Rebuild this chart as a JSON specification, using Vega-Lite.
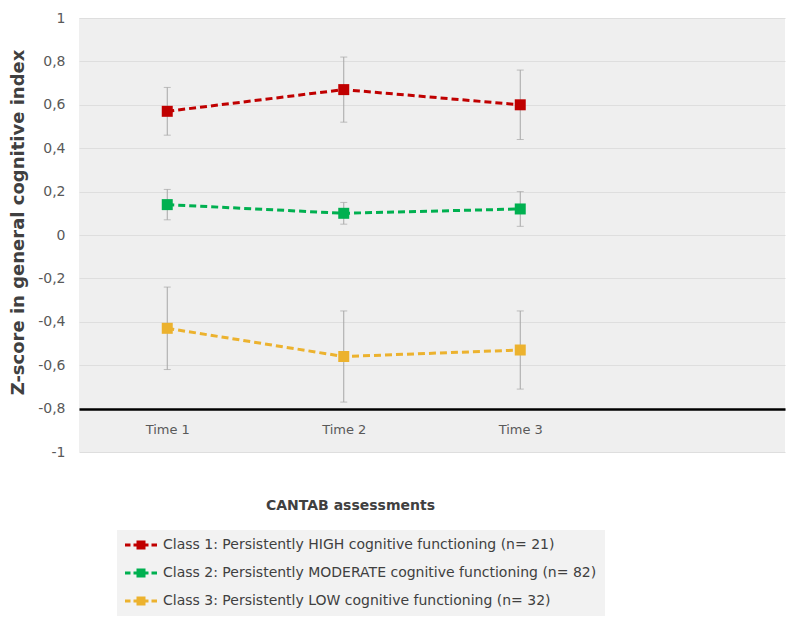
{
  "$schema": "https://vega.github.io/schema/vega-lite/v6.json",
  "width": 706,
  "height": 434,
  "autosize": "none",
  "padding": {"left": 79, "top": 18, "right": 15, "bottom": 172},
  "background": "white",
  "config": {
    "font": "DejaVu Sans",
    "view": {"fill": "#efefef", "stroke": null}
  },
  "data": {
    "values": [
      {"cls": "Class 1: Persistently HIGH cognitive functioning (n= 21)", "t": 1, "z": 0.57, "lo": 0.46, "hi": 0.68},
      {"cls": "Class 1: Persistently HIGH cognitive functioning (n= 21)", "t": 2, "z": 0.67, "lo": 0.52, "hi": 0.82},
      {"cls": "Class 1: Persistently HIGH cognitive functioning (n= 21)", "t": 3, "z": 0.60, "lo": 0.44, "hi": 0.76},
      {"cls": "Class 2: Persistently MODERATE cognitive functioning (n= 82)", "t": 1, "z": 0.14, "lo": 0.07, "hi": 0.21},
      {"cls": "Class 2: Persistently MODERATE cognitive functioning (n= 82)", "t": 2, "z": 0.10, "lo": 0.05, "hi": 0.15},
      {"cls": "Class 2: Persistently MODERATE cognitive functioning (n= 82)", "t": 3, "z": 0.12, "lo": 0.04, "hi": 0.20},
      {"cls": "Class 3: Persistently LOW cognitive functioning (n= 32)", "t": 1, "z": -0.43, "lo": -0.62, "hi": -0.24},
      {"cls": "Class 3: Persistently LOW cognitive functioning (n= 32)", "t": 2, "z": -0.56, "lo": -0.77, "hi": -0.35},
      {"cls": "Class 3: Persistently LOW cognitive functioning (n= 32)", "t": 3, "z": -0.53, "lo": -0.71, "hi": -0.35}
    ]
  },
  "encoding": {
    "x": {
      "field": "t", "type": "quantitative",
      "scale": {"domain": [0.5, 4.5], "nice": false, "zero": false},
      "axis": {
        "values": [1, 2, 3],
        "labelExpr": "'Time ' + datum.value",
        "offset": -43,
        "domainColor": "black", "domainWidth": 2.5,
        "ticks": false, "grid": false,
        "labelPadding": 14, "labelFontSize": 13, "labelColor": "#595959",
        "title": "CANTAB assessments",
        "titleFontSize": 14, "titleFontWeight": "bold", "titleColor": "#404040",
        "titleX": 271, "titleY": 96, "titleBaseline": "middle", "titleAlign": "center", "titleAnchor": null
      }
    },
    "y": {
      "field": "z", "type": "quantitative",
      "scale": {"domain": [-1, 1], "nice": false},
      "axis": {
        "values": [-1, -0.8, -0.6, -0.4, -0.2, 0, 0.2, 0.4, 0.6, 0.8, 1],
        "labelExpr": "replace(replace(format(datum.value, '.1~f'), '.', ','), '−', '-')",
        "domain": false, "ticks": false,
        "gridColor": "#dedede", "gridWidth": 1,
        "labelPadding": 14, "labelFontSize": 14, "labelColor": "#595959",
        "title": "Z-score in general cognitive index",
        "titleFontSize": 18, "titleFontWeight": "bold", "titleColor": "#404040",
        "titleX": -61, "titleY": 204, "titleAngle": -90, "titleBaseline": "middle", "titleAlign": "center"
      }
    }
  },
  "layer": [
    {
      "mark": {"type": "rule", "color": "#a6a6a6", "strokeWidth": 1},
      "encoding": {"y": {"field": "lo", "type": "quantitative"}, "y2": {"field": "hi"}}
    },
    {
      "mark": {"type": "tick", "orient": "horizontal", "color": "#a6a6a6", "thickness": 1, "size": 7},
      "encoding": {"y": {"field": "lo", "type": "quantitative"}}
    },
    {
      "mark": {"type": "tick", "orient": "horizontal", "color": "#a6a6a6", "thickness": 1, "size": 7},
      "encoding": {"y": {"field": "hi", "type": "quantitative"}}
    },
    {
      "mark": {"type": "line", "strokeDash": [7, 4], "strokeWidth": 3},
      "encoding": {
        "color": {
          "field": "cls", "type": "nominal",
          "scale": {"range": ["#C00000", "#00B050", "#ECB22E"]},
          "legend": {
            "title": null,
            "orient": "none", "legendX": 38, "legendY": 512,
            "fillColor": "#f2f2f2", "padding": 8,
            "symbolType": "M-1,-0.214H-0.214V0.214H-1Z M0.214,-0.214H2.357V0.214H0.214Z M0.643,-0.643H1.929V0.643H0.643Z M2.786,-0.214H3.571V0.214H2.786Z",
            "symbolSize": 196, "symbolStrokeWidth": 0, "symbolOpacity": 1,
            "labelOffset": 24, "labelFontSize": 14, "labelColor": "#404040", "labelLimit": 600,
            "rowPadding": 14,
            "encode": {"symbols": {"update": {"fill": {"scale": "color", "field": "value"}, "stroke": {"value": "transparent"}, "strokeWidth": {"value": 0}}}}
          }
        }
      }
    },
    {
      "mark": {"type": "point", "shape": "square", "filled": true, "size": 121, "opacity": 1},
      "encoding": {"color": {"field": "cls", "type": "nominal"}}
    }
  ]
}
